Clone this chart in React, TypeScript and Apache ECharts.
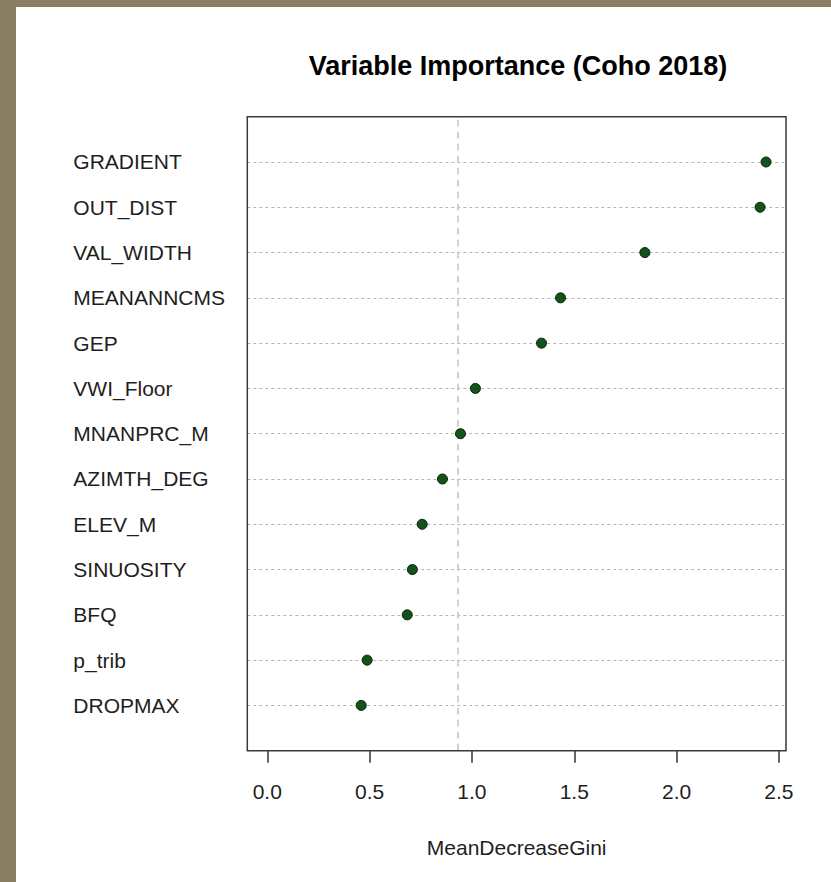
import React, { useEffect, useRef } from "react";
import * as echarts from "echarts";

const variables = [
  "GRADIENT",
  "OUT_DIST",
  "VAL_WIDTH",
  "MEANANNCMS",
  "GEP",
  "VWI_Floor",
  "MNANPRC_M",
  "AZIMTH_DEG",
  "ELEV_M",
  "SINUOSITY",
  "BFQ",
  "p_trib",
  "DROPMAX",
];
const meanDecreaseGini = [2.437, 2.408, 1.845, 1.433, 1.34, 1.017, 0.944, 0.856, 0.757, 0.709, 0.684, 0.488, 0.459];
const xTicks = [0, 0.5, 1.0, 1.5, 2.0, 2.5];
const referenceLine = 0.926;

export default function App() {
  const ref = useRef<HTMLDivElement>(null);
  useEffect(() => {
    if (!ref.current) return;
    const chart = echarts.init(ref.current, null, { renderer: "svg" });
    const n = variables.length;
    const data = variables.map((name, i) => [meanDecreaseGini[i], n - i]);
    const font = "'Liberation Sans', Arial, sans-serif";
    chart.setOption({
      animation: false,
      backgroundColor: "#ffffff",
      title: {
        text: "Variable Importance (Coho 2018)",
        left: 513,
        textAlign: "center",
        top: 47,
        textStyle: { fontFamily: font, fontSize: 27, fontWeight: "bold", color: "#000" },
      },
      graphic: [
        { type: "rect", shape: { x: 0, y: 0, width: 16, height: 882 }, style: { fill: "#8b7f63" }, silent: true },
        { type: "rect", shape: { x: 0, y: 0, width: 831, height: 7 }, style: { fill: "#8b7f63" }, silent: true },
      ],
      grid: {
        left: 247.3,
        top: 116.7,
        width: 538.7,
        height: 634,
        show: true,
        borderColor: "#3a3a3a",
        borderWidth: 1.5,
        backgroundColor: "transparent",
        z: 10,
      },
      xAxis: {
        type: "value",
        min: -0.0975,
        max: 2.5345,
        name: "MeanDecreaseGini",
        nameLocation: "middle",
        nameGap: 86,
        nameTextStyle: { fontFamily: font, fontSize: 21, color: "#1e1e1e" },
        axisLine: { show: false },
        splitLine: { show: false },
        axisTick: { show: true, inside: false, length: 12, customValues: xTicks, lineStyle: { color: "#333", width: 1.5 } },
        axisLabel: {
          customValues: xTicks,
          margin: 30,
          fontFamily: font,
          fontSize: 21,
          color: "#1e1e1e",
          formatter: (v: number) => v.toFixed(1),
        },
      },
      yAxis: {
        type: "value",
        min: 0,
        max: n + 1,
        interval: 1,
        axisLine: { show: false },
        axisTick: { show: false },
        splitLine: { show: true, lineStyle: { type: [3, 3], color: "#b4b4b4", width: 1 } },
        axisLabel: {
          align: "left",
          margin: 174,
          fontFamily: font,
          fontSize: 21,
          color: "#1e1e1e",
          formatter: (v: number) => (v >= 1 && v <= n ? variables[n - v] : ""),
        },
      },
      series: [
        {
          type: "scatter",
          data,
          symbol: "circle",
          symbolSize: 10,
          itemStyle: { color: "#13531a", borderColor: "#0a1f0a", borderWidth: 1, opacity: 1 },
          z: 5,
          markLine: {
            silent: true,
            symbol: "none",
            label: { show: false },
            lineStyle: { type: [7, 5], color: "#c4c4c4", width: 1.5 },
            data: [{ xAxis: referenceLine }],
          },
        },
      ],
    });
    return () => chart.dispose();
  }, []);
  return <div ref={ref} style={{ position: "absolute", left: 0, top: 0, width: 831, height: 882 }} />;
}
